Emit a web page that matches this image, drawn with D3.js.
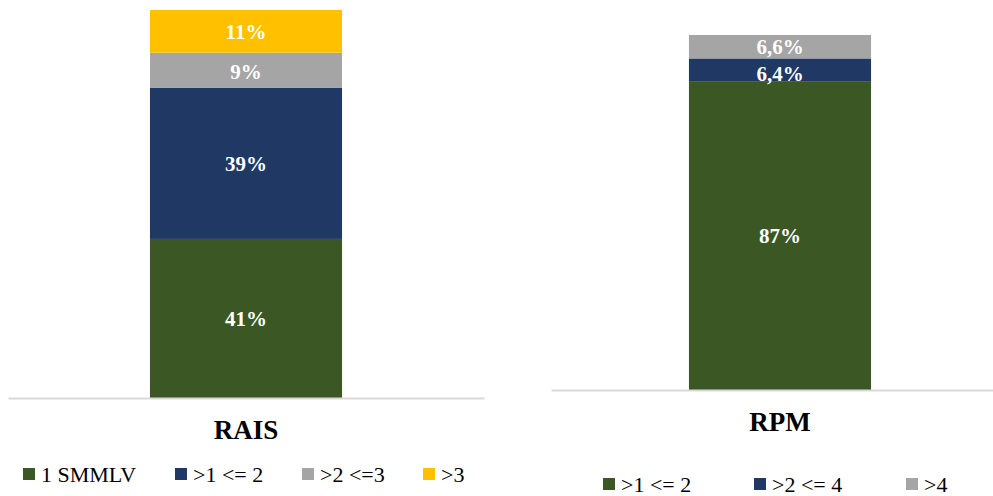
<!DOCTYPE html>
<html>
<head>
<meta charset="utf-8">
<script src="https://cdn.jsdelivr.net/npm/d3@7"></script>
<style>
  html, body { margin: 0; padding: 0; background: #fff; }
  svg { display: block; }
</style>
</head>
<body>
<svg id="chart" width="993" height="496"></svg>
<script>
// Distribución por rangos salariales: RAIS y RPM
const raisCategory = ["RAIS"];
const raisSeries = ["1 SMMLV", ">1 <= 2", ">2 <=3", ">3"];
const raisValues = [41, 39, 9, 11];

const rpmCategory = ["RPM"];
const rpmSeries = [">1 <= 2", ">2 <= 4", ">4"];
const rpmValues = [87, 6.4, 6.6];

const raisColors = ["#3b5724", "#203864", "#a5a5a5", "#ffc000"];
const rpmColors = ["#3b5724", "#203864", "#a5a5a5"];

const FONT = "'Liberation Serif', 'DejaVu Serif', serif";
const locale = d3.formatLocale({ decimal: ",", thousands: ".", grouping: [3], currency: ["", ""] });
const fmt = v => (Number.isInteger(v) ? locale.format("d")(v) : locale.format(".1f")(v)) + "%";

const svg = d3.select("#chart");

function panel(cfg) {
  const g = svg.append("g");
  const row = { cat: cfg.category[0] };
  cfg.series.forEach((s, i) => row[s] = cfg.values[i]);

  const x = d3.scaleBand().domain(cfg.category).range(cfg.xRange).padding(cfg.pad);
  const y = d3.scaleLinear().domain([0, 100]).range([cfg.base, cfg.top]);
  const stack = d3.stack().keys(cfg.series)([row]);

  // stacked segments
  g.selectAll("rect.seg").data(stack).join("rect")
    .attr("class", "seg")
    .attr("x", x(row.cat))
    .attr("width", x.bandwidth())
    .attr("y", d => y(d[0][1]))
    .attr("height", d => y(d[0][0]) - y(d[0][1]))
    .attr("fill", (d, i) => cfg.colors[i]);

  // value labels
  g.selectAll("text.val").data(stack).join("text")
    .attr("class", "val")
    .attr("x", x(row.cat) + x.bandwidth() / 2)
    .attr("y", (d, i) => (y(d[0][0]) + y(d[0][1])) / 2 + (cfg.labelShift[i] || 0))
    .attr("dy", "0.35em")
    .attr("text-anchor", "middle")
    .attr("font-family", FONT)
    .attr("font-weight", "bold")
    .attr("font-size", 21)
    .attr("fill", "#fff")
    .text((d, i) => fmt(cfg.values[i]));

  // category axis
  const axis = g.append("g")
    .attr("transform", `translate(0,${cfg.base})`)
    .call(d3.axisBottom(x).tickSize(0).tickSizeOuter(0).tickPadding(cfg.tickPad));
  axis.select(".domain").attr("stroke", "#d9d9d9").attr("stroke-width", 2);
  axis.selectAll(".tick text")
    .attr("font-family", FONT)
    .attr("font-weight", "bold")
    .attr("font-size", 27)
    .attr("fill", "#000");

  // legend
  const leg = g.selectAll("g.leg").data(cfg.series).join("g")
    .attr("class", "leg")
    .attr("transform", (d, i) => `translate(${cfg.legendX[i]},${cfg.legendY})`);
  leg.append("rect")
    .attr("x", 0).attr("y", -6).attr("width", 12).attr("height", 12)
    .attr("fill", (d, i) => cfg.colors[i]);
  leg.append("text")
    .attr("x", 18).attr("dy", "0.35em")
    .attr("font-family", FONT)
    .attr("font-size", 22)
    .attr("fill", "#000")
    .text(d => d);
}

panel({
  category: raisCategory, series: raisSeries, values: raisValues, colors: raisColors,
  xRange: [8, 484], pad: 0.425, base: 398, top: 10, tickPad: 22,
  labelShift: [0, 0, 2, 0],
  legendX: [23, 175, 302, 423], legendY: 474
});

panel({
  category: rpmCategory, series: rpmSeries, values: rpmValues, colors: rpmColors,
  xRange: [551, 1009], pad: 0.431, base: 390, top: 35, tickPad: 22,
  labelShift: [0, 4, 0],
  legendX: [603, 754, 906], legendY: 484
});
</script>
</body>
</html>
